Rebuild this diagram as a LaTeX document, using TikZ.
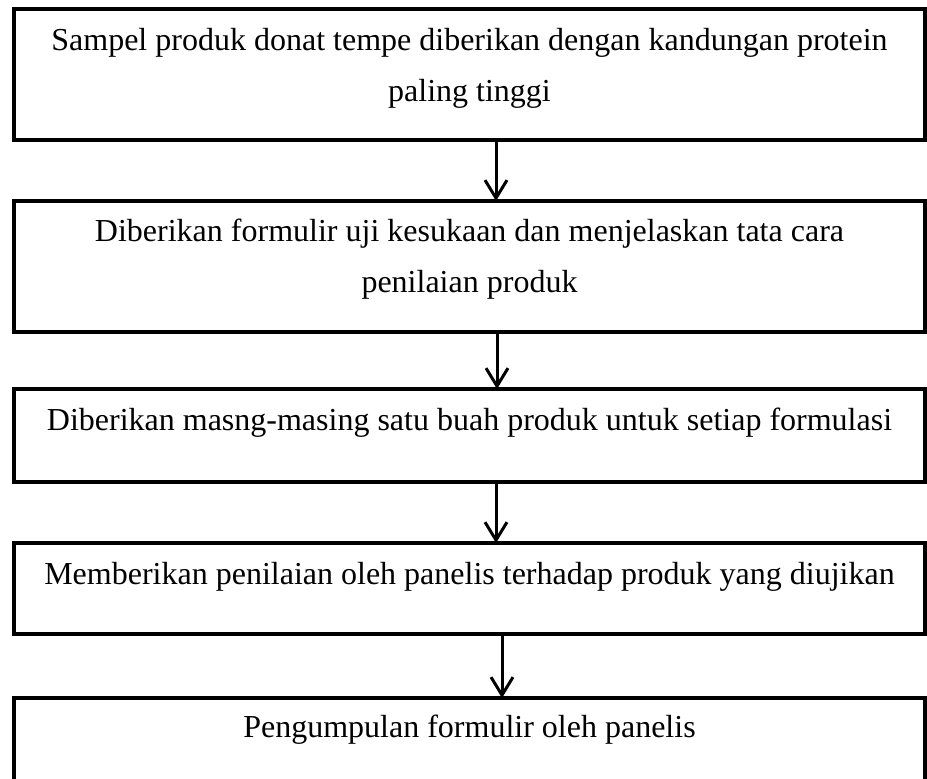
\documentclass[tikz,border=0pt]{standalone}
\usepackage{fontspec}
\setmainfont{Liberation Serif}
\usetikzlibrary{arrows.meta}
\begin{document}
\begin{tikzpicture}[x=0.5pt,y=-0.5pt,
  stepbox/.style={draw=black, line width=1.75pt, minimum width=455.5pt, inner sep=0pt, outer sep=0pt},
  steptext/.style={anchor=base, inner sep=0pt, font=\fontsize{16}{24}\selectfont},
  flow/.style={line width=1.5pt, -{Straight Barb[length=9pt,width=11pt,line width=1.5pt]}}]
  \clip (0,0) rectangle (927,779);
  \fill[white] (0,0) rectangle (927,779);
  % process boxes
  \node[stepbox, minimum height=65.5pt] (b1) at (469.5,74.5) {};
  \node[stepbox, minimum height=65.5pt] (b2) at (469.5,266.5) {};
  \node[stepbox, minimum height=46.5pt] (b3) at (469.5,435.5) {};
  \node[stepbox, minimum height=45.5pt] (b4) at (469.5,588.5) {};
  \node[stepbox, minimum height=66pt] (b5) at (469.5,764) {};
  % labels
  \node[steptext] (t1a) at (469.5,51) {Sampel produk donat tempe diberikan dengan kandungan protein};
  \node[steptext] (t1b) at (469.5,102) {paling tinggi};
  \node[steptext] (t2a) at (469.5,242) {Diberikan formulir uji kesukaan dan menjelaskan tata cara};
  \node[steptext] (t2b) at (469.5,293) {penilaian produk};
  \node[steptext] (t3) at (469.5,431) {Diberikan masng-masing satu buah produk untuk setiap formulasi};
  \node[steptext] (t4) at (469.5,585) {Memberikan penilaian oleh panelis terhadap produk yang diujikan};
  \node[steptext] (t5) at (469.5,738) {Pengumpulan formulir oleh panelis};
  % connectors
  \coordinate (x1) at (496,0);
  \coordinate (x2) at (497,0);
  \coordinate (x3) at (496,0);
  \coordinate (x4) at (502,0);
  \draw[flow] (b1.south -| x1) -- (b2.north -| x1);
  \draw[flow] (b2.south -| x2) -- (b3.north -| x2);
  \draw[flow] (b3.south -| x3) -- (b4.north -| x3);
  \draw[flow] (b4.south -| x4) -- (b5.north -| x4);
\end{tikzpicture}
\end{document}
